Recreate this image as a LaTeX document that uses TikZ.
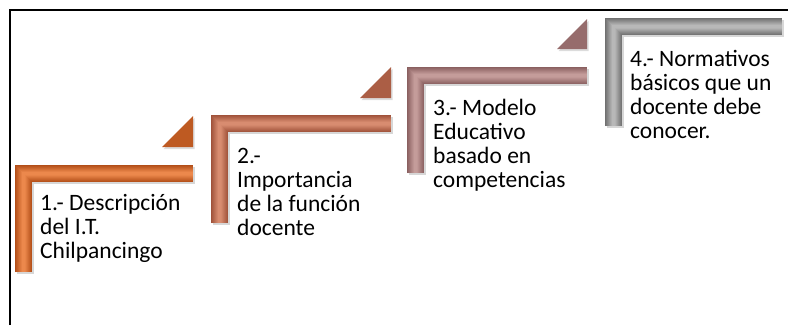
\documentclass[tikz,border=0pt]{standalone}
\usepackage{fontspec}
\setmainfont{Carlito}
\definecolor{oneedge}{RGB}{178,78,24}
\definecolor{onelight}{RGB}{236,136,76}
\definecolor{twoedge}{RGB}{160,82,58}
\definecolor{twolight}{RGB}{216,140,112}
\definecolor{threeedge}{RGB}{138,96,96}
\definecolor{threelight}{RGB}{196,156,154}
\definecolor{fouredge}{RGB}{112,112,112}
\definecolor{fourlight}{RGB}{184,184,184}

\begin{document}
\begin{tikzpicture}[
  x=1pt,y=-1pt,
  frame/.style={line width=1.4pt,black},
  stepshadow/.style={black!35,line width=17pt,opacity=0.45,shift={(1.5,2)}},
  steptext/.style={font=\fontsize{23.5}{24}\selectfont,align=left,anchor=base west,inner sep=0pt,text=black}
]
\newcommand{\stair}[5]{% prefix, left x, top y, right x, bottom y
  \draw[stepshadow] ({#2+8.5},#5) -- ({#2+8.5},{#3+8.5}) -- (#4,{#3+8.5});
  \foreach \w in {17,16,...,3}
    \pgfmathsetmacro{\p}{int(100*(\w-3)/14)}
    \draw[line width=\w pt,color=#1edge!\p!#1light] ({#2+8.5},#5) -- ({#2+8.5},{#3+8.5}) -- (#4,{#3+8.5});}
\newcommand{\notch}[4]{% prefix, right x, bottom y, size
  \fill[black!30,opacity=0.45,shift={(1.5,2)}] (#2,{#3-#4}) -- (#2,#3) -- ({#2-#4},#3) -- cycle;
  \fill[#1edge!80!#1light] (#2,{#3-#4}) -- (#2,#3) -- ({#2-#4},#3) -- cycle;}
\useasboundingbox (0,0) rectangle (788,325);
\draw[frame] (10,325) |- (788,10);
% ================= stairs =================
\stair{one}{15}{165}{193}{272}
\stair{two}{211}{115}{391}{223}
\stair{three}{407}{67}{587}{173}
\stair{four}{605}{18}{782}{126}
\notch{one}{193}{147}{31}
\notch{two}{391}{98}{31}
\notch{three}{587}{49}{30}
% ================= labels (placed by last baseline) =================
\node[steptext] (s1) at (40,258) {1.- Descripción\\del I.T.\\Chilpancingo};
\node[steptext] (s2) at (237,235) {2.-\\Importancia\\de la función\\docente};
\node[steptext] (s3) at (433,187) {3.- Modelo\\Educativo\\basado en\\competencias};
\node[steptext] (s4) at (630,138) {4.- Normativos\\básicos que un\\docente debe\\conocer.};
\end{tikzpicture}
\end{document}
